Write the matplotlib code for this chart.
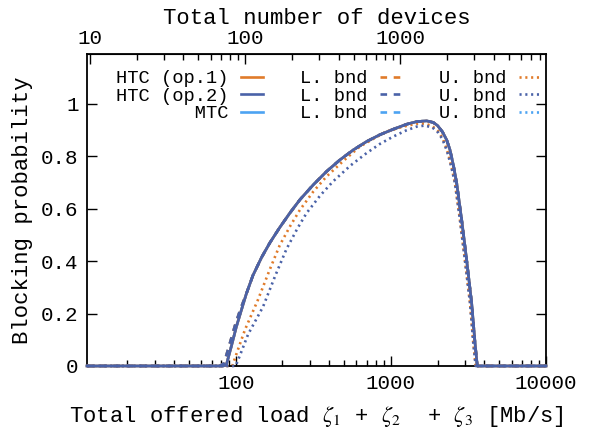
import matplotlib
matplotlib.use("Agg")
import matplotlib.pyplot as plt
from matplotlib.ticker import FixedLocator, FixedFormatter, LogLocator, NullFormatter

plt.rcParams['font.family'] = ['Liberation Mono', 'DejaVu Sans']
plt.rcParams['mathtext.fontset'] = 'stix'

# ---- data ----
load_solid = [11, 83, 87, 94, 101, 109, 117, 129, 147, 166, 192, 223, 259, 316, 385,
              469, 572, 697, 849, 1035, 1262, 1465, 1700, 1875, 2000, 2150, 2287, 2403,
              2540, 2656, 2860, 3078, 3318, 3487, 3606, 10000]
p_htc1 = [0, 0, 0.004, 0.078, 0.150, 0.215, 0.275, 0.345, 0.415, 0.470, 0.528, 0.583,
          0.634, 0.691, 0.742, 0.786, 0.824, 0.856, 0.882, 0.903, 0.922, 0.932, 0.935,
          0.929, 0.917, 0.893, 0.863, 0.825, 0.76, 0.697, 0.557, 0.405, 0.239, 0.087, 0, 0]
p_htc2 = [0, 0, 0.004, 0.078, 0.150, 0.215, 0.275, 0.345, 0.415, 0.470, 0.528, 0.583,
          0.634, 0.691, 0.742, 0.786, 0.824, 0.856, 0.882, 0.903, 0.922, 0.932, 0.935,
          0.929, 0.917, 0.893, 0.863, 0.825, 0.76, 0.697, 0.557, 0.405, 0.239, 0.087, 0, 0]
p_mtc = [0, 0, 0.004, 0.078, 0.150, 0.215, 0.275, 0.345, 0.415, 0.470, 0.528, 0.583,
         0.634, 0.691, 0.742, 0.786, 0.824, 0.856, 0.882, 0.903, 0.922, 0.932, 0.935,
         0.929, 0.917, 0.893, 0.863, 0.825, 0.76, 0.697, 0.557, 0.405, 0.239, 0.087, 0, 0]

load_lb = [11, 79, 84, 91, 99, 107, 117, 129, 147, 166, 192, 223, 259, 316, 385,
           469, 572, 697, 849, 1035, 1262, 1465, 1700, 1875, 2000, 2150, 2287, 2403,
           2540, 2656, 2860, 3078, 3318, 3487, 3606, 10000]
lb_htc1 = [0, 0, 0.01, 0.08, 0.155, 0.215, 0.275, 0.345, 0.415, 0.470, 0.528, 0.583,
           0.634, 0.691, 0.742, 0.786, 0.824, 0.856, 0.882, 0.903, 0.922, 0.932, 0.935,
           0.929, 0.917, 0.893, 0.863, 0.825, 0.76, 0.697, 0.557, 0.405, 0.239, 0.087, 0, 0]
lb_htc2 = [0, 0, 0.01, 0.08, 0.155, 0.215, 0.275, 0.345, 0.415, 0.470, 0.528, 0.583,
           0.634, 0.691, 0.742, 0.786, 0.824, 0.856, 0.882, 0.903, 0.922, 0.932, 0.935,
           0.929, 0.917, 0.893, 0.863, 0.825, 0.76, 0.697, 0.557, 0.405, 0.239, 0.087, 0, 0]
lb_mtc = [0, 0, 0.01, 0.08, 0.155, 0.215, 0.275, 0.345, 0.415, 0.470, 0.528, 0.583,
          0.634, 0.691, 0.742, 0.786, 0.824, 0.856, 0.882, 0.903, 0.922, 0.932, 0.935,
          0.929, 0.917, 0.893, 0.863, 0.825, 0.76, 0.697, 0.557, 0.405, 0.239, 0.087, 0, 0]

load_ub1 = [11, 95, 103, 115, 139, 165, 192, 225, 259, 316, 385, 500, 631, 800, 937,
            1200, 1466, 1650, 1850, 2020, 2150, 2250, 2340, 2470, 2590, 2790, 3000,
            3240, 3400, 3520, 10000]
ub_htc1 = [0, 0, 0.06, 0.14, 0.252, 0.365, 0.46, 0.535, 0.595, 0.665, 0.723, 0.785,
           0.837, 0.872, 0.894, 0.913, 0.924, 0.925, 0.915, 0.895, 0.87, 0.84, 0.81,
           0.755, 0.697, 0.557, 0.405, 0.239, 0.087, 0, 0]
load_ub2 = [11, 100, 108, 120, 150, 180, 212, 250, 286, 350, 424, 550, 697, 850, 1035,
            1250, 1466, 1650, 1850, 2020, 2150, 2250, 2340, 2470, 2590, 2790, 3000,
            3240, 3400, 3520, 10000]
ub_htc2 = [0, 0, 0.05, 0.12, 0.226, 0.345, 0.445, 0.525, 0.583, 0.65, 0.704, 0.765,
           0.812, 0.847, 0.875, 0.898, 0.913, 0.917, 0.91, 0.89, 0.865, 0.835, 0.805,
           0.752, 0.697, 0.557, 0.405, 0.239, 0.087, 0, 0]
ub_mtc = p_mtc

device_factor = 1.15  # load per device (top axis mapping)

x_ticks = [100, 1000, 10000]
x_ticklabels = ["100", "1000", "10000"]
top_ticks = [10, 100, 1000]
top_ticklabels = ["10", "100", "1000"]
y_ticks = [0, 0.2, 0.4, 0.6, 0.8, 1]
y_ticklabels = ["0", "0.2", "0.4", "0.6", "0.8", "1"]

C_ORANGE = "#e07b2a"
C_BLUE = "#4a62a8"
C_LBLUE = "#4ca3f2"

fig = plt.figure(figsize=(5.91, 4.29), dpi=100)
ax = fig.add_axes([0.1472, 0.1469, 0.9239 - 0.1472, 0.8741 - 0.1469])

lw = 1.9
dot = (0, (0.8, 1.4))
dash = (0, (2.5, 2.5))
kw = dict(clip_on=False, zorder=3)

# MTC (hidden beneath)
h_mtc, = ax.plot(load_solid, p_mtc, color=C_LBLUE, lw=lw, **kw)
h_lm, = ax.plot(load_lb, lb_mtc, color=C_LBLUE, lw=lw, ls=dash, **kw)
h_um, = ax.plot(load_solid, ub_mtc, color=C_LBLUE, lw=lw, ls=dot, **kw)
# HTC op.1
h_1, = ax.plot(load_solid, p_htc1, color=C_ORANGE, lw=lw, **kw)
h_l1, = ax.plot(load_lb, lb_htc1, color=C_ORANGE, lw=lw, ls=dash, **kw)
h_u1, = ax.plot(load_ub1, ub_htc1, color=C_ORANGE, lw=lw, ls=dot, **kw)
# HTC op.2
h_2, = ax.plot(load_solid, p_htc2, color=C_BLUE, lw=lw, **kw)
h_l2, = ax.plot(load_lb, lb_htc2, color=C_BLUE, lw=lw, ls=dash, **kw)
h_u2, = ax.plot(load_ub2, ub_htc2, color=C_BLUE, lw=lw, ls=dot, **kw)

ax.set_xscale('log')
ax.set_xlim(11, 10000)
ax.set_ylim(0, 1.19)

ax.xaxis.set_major_locator(FixedLocator(x_ticks))
ax.xaxis.set_major_formatter(FixedFormatter(x_ticklabels))
ax.xaxis.set_minor_locator(LogLocator(base=10, subs=range(2, 10)))
ax.xaxis.set_minor_formatter(NullFormatter())
ax.set_yticks(y_ticks)
ax.set_yticklabels(y_ticklabels)

ax.tick_params(axis='both', which='major', direction='in', length=7, width=1,
               labelsize=15, top=False, right=True, pad=6)
ax.tick_params(axis='x', which='minor', direction='in', length=4, width=1, top=False)
for s in ax.spines.values():
    s.set_linewidth(1.3)

sec = ax.secondary_xaxis('top', functions=(lambda x: x / device_factor,
                                           lambda x: x * device_factor))
sec.xaxis.set_major_locator(FixedLocator(top_ticks))
sec.xaxis.set_major_formatter(FixedFormatter(top_ticklabels))
sec.xaxis.set_minor_locator(LogLocator(base=10, subs=range(2, 10)))
sec.xaxis.set_minor_formatter(NullFormatter())
sec.tick_params(axis='x', which='major', direction='in', length=7, width=1,
                labelsize=15, pad=4)
sec.tick_params(axis='x', which='minor', direction='in', length=4, width=1)
sec.set_xlabel("Total number of devices", fontsize=16, labelpad=4)

ax.set_xlabel(r"Total offered load $\zeta_1$ + $\zeta_2$  + $\zeta_3$ [Mb/s]",
              fontsize=16, labelpad=8)
ax.set_ylabel("Blocking probability", fontsize=16, labelpad=6)

handles = [h_1, h_2, h_mtc, h_l1, h_l2, h_lm, h_u1, h_u2, h_um]
labels = ["HTC (op.1)", "HTC (op.2)", "       MTC",
          "L. bnd", "L. bnd", "L. bnd",
          "U. bnd", "U. bnd", "U. bnd"]
leg = ax.legend(handles, labels, ncol=3, markerfirst=False, frameon=False,
                loc='upper right', bbox_to_anchor=(1.022, 1.0),
                fontsize=13.5, handlelength=1.15, handletextpad=0.65,
                columnspacing=2.0, labelspacing=0.02, borderpad=0.35)

fig.savefig("out.png", dpi=100)
